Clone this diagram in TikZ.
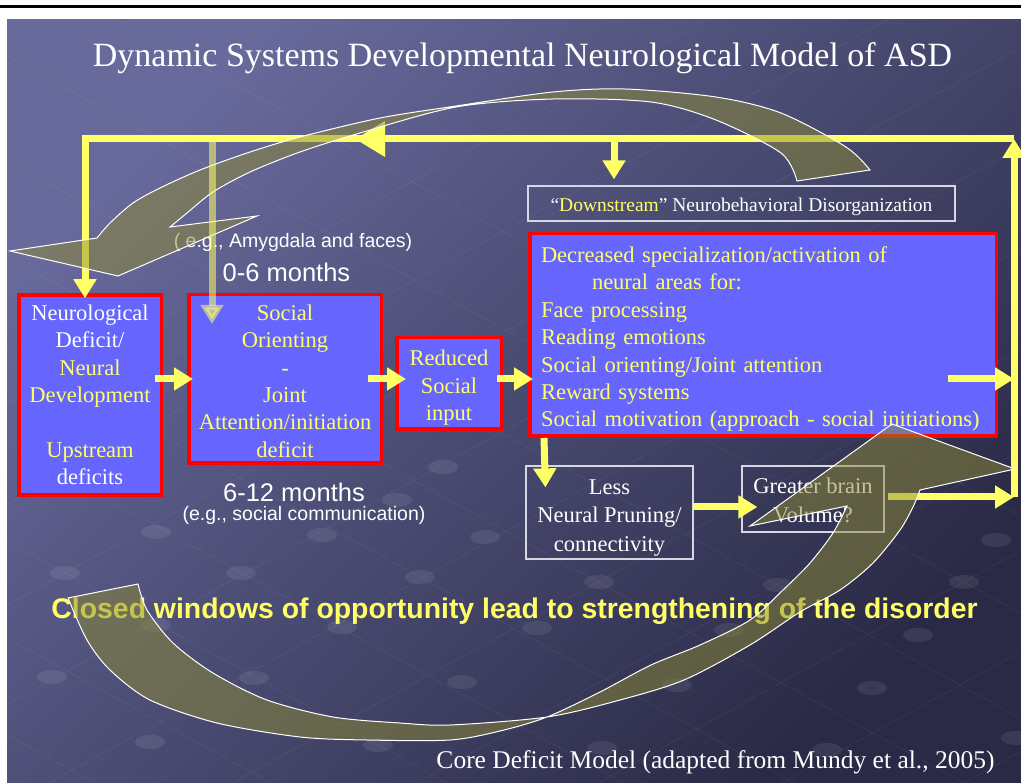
\documentclass[tikz,border=0pt]{standalone}
\usepackage{fontspec}
\setmainfont{Liberation Serif}
\setsansfont{Liberation Sans}
\usetikzlibrary{arrows.meta,calc,positioning}

\definecolor{slideA}{RGB}{104,106,156}
\definecolor{slideB}{RGB}{42,42,70}
\definecolor{boxblue}{RGB}{102,102,255}
\definecolor{hiyellow}{RGB}{255,255,102}
\definecolor{ribbon}{RGB}{140,138,52}
\definecolor{frame}{RGB}{215,215,228}

\newcommand{\topgap}[1]{\rule{0pt}{#1}}

\begin{document}
\begin{tikzpicture}[
    x=1pt,
    y=-1pt,
    deficit/.style={draw=red,line width=3.5pt,fill=boxblue,text=hiyellow,inner sep=0pt,
        align=center,font=\fontsize{22.5}{27.4}\selectfont},
    outcome/.style={draw=frame,line width=1.2pt,text=white,inner sep=0pt,
        align=center,font=\fontsize{22.5}{28.5}\selectfont},
    agelabel/.style={text=white,anchor=base,font=\sffamily\fontsize{25.5}{30}\selectfont},
    agenote/.style={text=white,anchor=base,font=\sffamily\fontsize{19.5}{23}\selectfont},
    feed/.style={line width=7pt,hiyellow,-{Triangle[length=19pt,width=22pt]}},
    loopback/.style={line width=7pt,hiyellow,-{Triangle[length=30pt,width=34pt]}},
    swoosh/.style={fill=ribbon,fill opacity=0.5,draw=white,line width=1pt},
    griddot/.style={fill=white,opacity=0.08},
    gridline/.style={white,opacity=0.05,line width=0.8pt}
]
    \useasboundingbox (0,0) rectangle (1021,783);

    % Slide and background
    \fill[white] (0,0) rectangle (1021,783);
    \draw[line width=2.5pt] (0,6.5) -- (1021,6.5);
    \shade[top color=slideA,bottom color=slideB,shading angle=45] (7,20) rectangle (1021,783);
    \begin{scope}
        \clip (7,20) rectangle (1021,783);
        \foreach \b in {-45,52,157,253,346,440,537,634,731}{
            \draw[gridline] (7,{0.55*7+\b}) -- (1021,{0.55*1021+\b});
        }
        \foreach \c in {408,508,609,708,810,911,1012,1112,1213,1313,1413}{
            \draw[gridline] (7,{-0.55*7+\c}) -- (1021,{-0.55*1021+\c});
        }
        \foreach \px/\py in {156/532,322/535,485/537,996/540,65/573,241/573,420/577,599/582,
            778/585,964/582,156/625,342/627,537/628,729/630,918/635,52/677,254/678,462/682,
            677/685,872/688,150/742,378/745,602/748,827/750,1016/738,443/467,397/500}{
            \fill[griddot] (\px,\py) ellipse [x radius=15,y radius=7];
        }
    \end{scope}

    % Title
    \node[text=white,anchor=base,font=\fontsize{34}{40}\selectfont] (title) at (522.5,67)
        {Dynamic Systems Developmental Neurological Model of ASD};

    % Boxes
    \node[deficit,minimum width=142.5pt,minimum height=200pt] (neuro) at (90,395)
        {\textcolor{white}{Neurological}\\\textcolor{white}{Deficit/}\\Neural\\Development\\[27.4pt]
         Upstream\\\textcolor{white}{deficits}};
    \node[deficit,minimum width=192.5pt,minimum height=168.5pt] (orient) at (285,379)
        {\topgap{20pt}Social\\Orienting\\-\\Joint\\Attention/initiation\\deficit};
    \node[deficit,minimum width=104.5pt,minimum height=91.5pt] (reduced) at (449,383.5)
        {\topgap{24pt}Reduced\\Social\\input};
    \node[deficit,minimum width=466.5pt,minimum height=202.5pt,text width=444pt,align=left]
        (decreased) at (763,335)
        {\topgap{24pt}Decreased specialization/activation of\\
         \hspace*{51pt}neural areas for:\\
         Face processing\\
         Reading emotions\\
         Social orienting/Joint attention\\
         Reward systems\\
         Social motivation (approach - social initiations)};
    \node[outcome,minimum width=427pt,minimum height=35pt,font=\fontsize{19.5}{23}\selectfont]
        (downstream) at (741.5,203.5)
        {\topgap{21pt}“\textcolor{hiyellow}{Downstream}” Neurobehavioral Disorganization};
    \node[outcome,minimum width=167pt,minimum height=93pt] (pruning) at (609.5,512.5)
        {\topgap{25pt}Less\\Neural Pruning/\\connectivity};
    \node[outcome,minimum width=142pt,minimum height=66pt] (volume) at (813,499)
        {\topgap{18pt}Greater brain\\Volume?};

    % Ages and examples
    \node[agenote] (amygdala) at (293,248) {( e.g., Amygdala and faces)};
    \node[agelabel] (early) at (286.5,282) {0-6 months};
    \node[agelabel] (later) at (294,502) {6-12 months};
    \node[agenote] (communication) at (304,521) {(e.g., social communication)};

    \node[text=hiyellow,anchor=base,font=\sffamily\bfseries\fontsize{28.4}{32}\selectfont]
        (closed) at (514.5,618)
        {Closed windows of opportunity lead to strengthening of the disorder};
    \node[text=white,anchor=base,font=\fontsize{25.5}{30}\selectfont] (source) at (715.5,768)
        {Core Deficit Model (adapted from Mundy et al., 2005)};

    % Feedback loop
    \coordinate (ltop) at (85,139);
    \coordinate (rtop) at (1014,139);
    \coordinate (rbot) at (1014,497);
    \coordinate (turn) at (355,139);
    \coordinate (dsplit) at (614,139);
    \coordinate (osplit) at (212,139);
    \draw[feed] (rtop) -- (ltop) -- ($(ltop |- neuro.north)+(0,5)$);
    \draw[loopback] (rtop) -- (turn);
    \draw[feed] (rbot) -- (rtop);
    \draw[feed] (dsplit) -- ($(dsplit |- downstream.north)+(0,-6)$);

    % Forward path
    \draw[feed] ($(neuro.east |- orient.west)+(-8,0)$) -- ($(orient.west)+(6,0)$);
    \draw[feed] ($(orient.east)+(-15,0)$) -- ($(reduced.west |- orient.east)+(11,0)$);
    \draw[feed] ($(reduced.east |- orient.east)+(-6,0)$) -- ($(decreased.west |- orient.east)+(5,0)$);
    \draw[feed] ($(decreased.east |- orient.east)+(-50,0)$) -- (rbot |- orient.east);
    \draw[feed] ($(decreased.south west)+(16,0)$) -- ($(pruning.north west)+(20,22)$);
    \draw[feed] ($(pruning.east)+(-1,-5.5)$) -- ($(volume.west)+(16,8)$);
    \draw[feed] ($(volume.east)+(3,-2)$) -- (rbot);

    % Curved block arrows
    \filldraw[swoosh] (797,181) -- (870,170)
        -- plot[smooth] coordinates {(870,170) (846,147) (781,113) (716,97) (625,89) (553,92)
            (456,106) (380,118) (300,137) (250,152) (200,170) (160,188) (133,203) (110,223) (97,238)}
        -- (10,251) -- (118,276) -- (257,216) -- (170,227)
        -- plot[smooth] coordinates {(170,227) (187,213) (213,192) (250,172) (300,152) (360,133)
            (456,107) (553,99) (651,102) (716,120) (781,153) (797,181)}
        -- cycle;
    \filldraw[swoosh] (68,598) -- (138,584)
        -- plot[smooth] coordinates {(138,584) (147,610) (173,643) (213,673) (267,700)
            (333,717) (400,723) (450,725) (547,717) (620,700) (684,680) (750,645) (800,612)
            (840,590) (873,563) (900,530) (913,507) (920,490)}
        -- (1015,469) -- (892,424) -- (750,526) -- (847,506)
        -- plot[smooth] coordinates {(847,506) (833,533) (810,563) (783,590) (750,620)
            (700,645) (651,665) (600,692) (547,717) (500,731) (450,740) (367,740) (300,737)
            (217,723) (150,700) (110,670) (87,640) (68,598)}
        -- cycle;
    \draw[feed,opacity=0.55] (osplit) -- ($(osplit |- orient.north)+(0,31)$);
\end{tikzpicture}
\end{document}
